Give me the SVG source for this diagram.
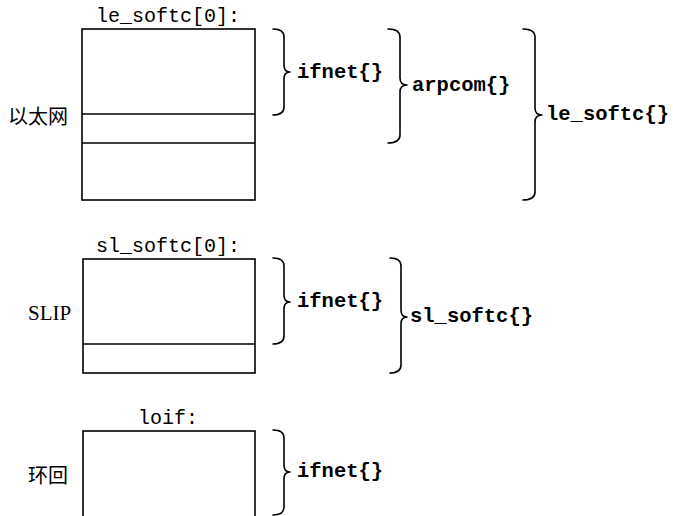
<svg xmlns="http://www.w3.org/2000/svg" width="673" height="516" viewBox="0 0 673 516">
<style>
.box{fill:none;stroke:#000;stroke-width:1.6}
.brace{fill:none;stroke:#000;stroke-width:1.6;stroke-linejoin:round;stroke-linecap:round}
.mono{font-family:"Liberation Mono","DejaVu Sans Mono",monospace;font-size:20px;fill:#000}
.bold{font-family:"Liberation Mono","DejaVu Sans Mono",monospace;font-size:20.5px;font-weight:bold;fill:#000}
.cjk{font-family:"Noto Sans CJK SC","Noto Sans",sans-serif;font-size:20px;fill:#000}
.serif{font-family:"Liberation Serif","Times New Roman",serif;font-size:21px;fill:#000}
</style>
<rect width="673" height="516" fill="#fff"/>
<g id="le_softc">
  <text class="mono" x="168" y="22" text-anchor="middle">le_softc[0]:</text>
  <rect class="box" x="82" y="29" width="173" height="171"/>
  <line class="box" x1="82" y1="114" x2="255" y2="114"/>
  <line class="box" x1="82" y1="143" x2="255" y2="143"/>
  <text class="cjk" x="8" y="124">以太网</text>
</g>
<g id="sl_softc">
  <text class="mono" x="168" y="252" text-anchor="middle">sl_softc[0]:</text>
  <rect class="box" x="83" y="259" width="172" height="114"/>
  <line class="box" x1="83" y1="344" x2="255" y2="344"/>
  <text class="serif" x="28" y="320">SLIP</text>
</g>
<g id="loif">
  <text class="mono" x="168" y="424" text-anchor="middle">loif:</text>
  <rect class="box" x="83" y="431" width="172" height="110"/>
  <text class="cjk" x="28" y="483">环回</text>
</g>
<g id="braces">
  <path class="brace" d="M273 29 Q284 29 284 37 L284 65 Q284 72 290 72 Q284 72 284 79 L284 107 Q284 115 273 115"/>
  <path class="brace" d="M388 29 Q400 29 400 37 L400 78 Q400 85 407 85 Q400 85 400 92 L400 135 Q400 143 388 143"/>
  <path class="brace" d="M523 29 Q535 29 535 37 L535 108 Q535 115 542 115 Q535 115 535 122 L535 192 Q535 200 523 200"/>
  <path class="brace" d="M273 258 Q284 258 284 266 L284 295 Q284 302 290 302 Q284 302 284 309 L284 336 Q284 344 273 344"/>
  <path class="brace" d="M390 258 Q401 258 401 266 L401 310 Q401 317 407 317 Q401 317 401 324 L401 365 Q401 373 390 373"/>
  <path class="brace" d="M273 430 Q284 430 284 438 L284 465 Q284 472 290 472 Q284 472 284 479 L284 507 Q284 515 273 515"/>
</g>
<g id="labels">
  <text class="bold" x="297" y="78">ifnet{}</text>
  <text class="bold" x="412" y="91">arpcom{}</text>
  <text class="bold" x="546" y="120">le_softc{}</text>
  <text class="bold" x="297" y="307">ifnet{}</text>
  <text class="bold" x="410" y="322">sl_softc{}</text>
  <text class="bold" x="297" y="477">ifnet{}</text>
</g>
</svg>
